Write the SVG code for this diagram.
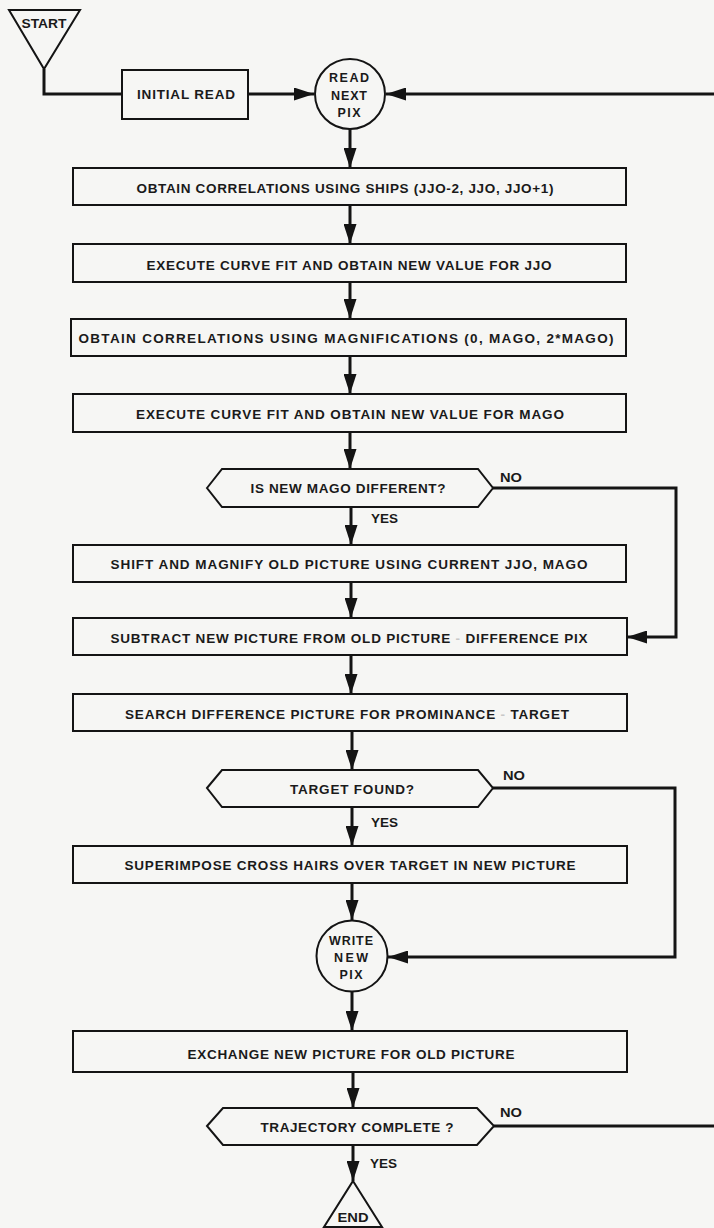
<svg xmlns="http://www.w3.org/2000/svg" width="714" height="1228" viewBox="0 0 714 1228">
  <style>
    .bg { fill: #f6f6f4; }
    .box { fill: none; stroke: #141414; stroke-width: 2; }
    .term { fill: none; stroke: #141414; stroke-width: 2; stroke-linejoin: miter; }
    .wire { fill: none; stroke: #141414; stroke-width: 3; stroke-linejoin: miter; }
    .t { font-family: "Liberation Sans", Arial, sans-serif; font-weight: bold; font-size: 13.5px; fill: #1a1a1a; text-anchor: middle; }
    .s { font-size: 12.5px; }
    .lbl { font-family: "Liberation Sans", Arial, sans-serif; font-weight: bold; font-size: 12.5px; fill: #1a1a1a; }
    .faint { fill: #c8c8c8; }
  </style>
  <defs>
    <marker id="arrow" markerUnits="userSpaceOnUse" viewBox="0 0 20 13" refX="20" refY="6.5" markerWidth="20" markerHeight="13" orient="auto">
      <path d="M0,0 L20,6.5 L0,13 Z" fill="#141414"/>
    </marker>
  </defs>

  <rect class="bg" x="0" y="0" width="714" height="1228"/>

  <!-- flow lines -->
  <g id="connectors">
    <path class="wire" d="M44,69 V94 H122"/>
    <path class="wire" d="M248,94 H314" marker-end="url(#arrow)"/>
    <path class="wire" d="M714,94 H386" marker-end="url(#arrow)"/>
    <path class="wire" d="M350,129 V168" marker-end="url(#arrow)"/>
    <path class="wire" d="M350,205 V244" marker-end="url(#arrow)"/>
    <path class="wire" d="M350,282 V319" marker-end="url(#arrow)"/>
    <path class="wire" d="M350,356 V394" marker-end="url(#arrow)"/>
    <path class="wire" d="M350,432 V469" marker-end="url(#arrow)"/>
    <path class="wire" d="M351,507 V545" marker-end="url(#arrow)"/>
    <path class="wire" d="M493,488 H676 V637 H627" marker-end="url(#arrow)"/>
    <path class="wire" d="M351,582 V618" marker-end="url(#arrow)"/>
    <path class="wire" d="M351,655 V694" marker-end="url(#arrow)"/>
    <path class="wire" d="M352,731 V770" marker-end="url(#arrow)"/>
    <path class="wire" d="M352,807 V846" marker-end="url(#arrow)"/>
    <path class="wire" d="M493,788 H675 V957 H388" marker-end="url(#arrow)"/>
    <path class="wire" d="M352,883 V920" marker-end="url(#arrow)"/>
    <path class="wire" d="M352,992 V1031" marker-end="url(#arrow)"/>
    <path class="wire" d="M353,1072 V1108" marker-end="url(#arrow)"/>
    <path class="wire" d="M494,1126 H714"/>
    <path class="wire" d="M353,1145 V1181" marker-end="url(#arrow)"/>
    <text class="lbl" x="500" y="482" textLength="22" lengthAdjust="spacingAndGlyphs">NO</text>
    <text class="lbl" x="371" y="523" textLength="27" lengthAdjust="spacingAndGlyphs">YES</text>
    <text class="lbl" x="503" y="780" textLength="22" lengthAdjust="spacingAndGlyphs">NO</text>
    <text class="lbl" x="371" y="827" textLength="27" lengthAdjust="spacingAndGlyphs">YES</text>
    <text class="lbl" x="500" y="1117" textLength="22" lengthAdjust="spacingAndGlyphs">NO</text>
    <text class="lbl" x="370" y="1168" textLength="27" lengthAdjust="spacingAndGlyphs">YES</text>
  </g>

  <g id="start">
    <path class="term" d="M9,10 H80 L44,69 Z"/>
    <text class="t s" x="44" y="28" textLength="45" lengthAdjust="spacingAndGlyphs">START</text>
  </g>

  <g id="initial-read">
    <rect class="box" x="122" y="70" width="126" height="49"/>
    <text class="t" x="186" y="99" textLength="98" lengthAdjust="spacing">INITIAL READ</text>
  </g>

  <g id="read-next-pix">
    <circle class="box" cx="350" cy="94" r="35"/>
    <text class="t s" x="349" y="82" textLength="40" lengthAdjust="spacing">READ</text>
    <text class="t s" x="349" y="99.5" textLength="36" lengthAdjust="spacing">NEXT</text>
    <text class="t s" x="349" y="117" textLength="23" lengthAdjust="spacing">PIX</text>
  </g>

  <g id="ships-correlation">
    <rect class="box" x="73" y="168" width="553" height="37"/>
    <text class="t" x="345" y="193" textLength="417" lengthAdjust="spacing">OBTAIN CORRELATIONS USING SHIPS (JJO-2, JJO, JJO+1)</text>
  </g>

  <g id="fit-jjo">
    <rect class="box" x="73" y="244" width="553" height="38"/>
    <text class="t" x="349" y="269.5" textLength="405" lengthAdjust="spacing">EXECUTE CURVE FIT AND OBTAIN NEW VALUE FOR JJO</text>
  </g>

  <g id="mag-correlation">
    <rect class="box" x="71" y="319" width="555" height="37"/>
    <text class="t" x="346" y="342.5" textLength="535" lengthAdjust="spacing">OBTAIN CORRELATIONS USING MAGNIFICATIONS (0, MAGO, 2*MAGO)</text>
  </g>

  <g id="fit-mago">
    <rect class="box" x="73" y="394" width="553" height="38"/>
    <text class="t" x="350" y="418.5" textLength="428" lengthAdjust="spacing">EXECUTE CURVE FIT AND OBTAIN NEW VALUE FOR MAGO</text>
  </g>

  <g id="mago-changed">
    <path class="box" d="M207,488 L222,469 H478 L493,488 L478,507 H222 Z"/>
    <text class="t" x="348" y="492.5" textLength="195" lengthAdjust="spacing">IS NEW MAGO DIFFERENT?</text>
  </g>

  <g id="shift-magnify">
    <rect class="box" x="73" y="545" width="553" height="37"/>
    <text class="t" x="349" y="568.5" textLength="477" lengthAdjust="spacing">SHIFT AND MAGNIFY OLD PICTURE USING CURRENT JJO, MAGO</text>
  </g>

  <g id="subtract">
    <rect class="box" x="73" y="618" width="554" height="37"/>
    <text class="t" x="349" y="643" textLength="477" lengthAdjust="spacing">SUBTRACT NEW PICTURE FROM OLD PICTURE <tspan class="faint">-</tspan> DIFFERENCE PIX</text>
  </g>

  <g id="search">
    <rect class="box" x="73" y="694" width="554" height="37"/>
    <text class="t" x="347" y="719" textLength="444" lengthAdjust="spacing">SEARCH DIFFERENCE PICTURE FOR PROMINANCE <tspan class="faint">-</tspan> TARGET</text>
  </g>

  <g id="target-found">
    <path class="box" d="M207,788 L222,770 H478 L493,788 L478,807 H222 Z"/>
    <text class="t" x="352" y="793.5" textLength="124" lengthAdjust="spacing">TARGET FOUND?</text>
  </g>

  <g id="cross-hairs">
    <rect class="box" x="73" y="846" width="554" height="37"/>
    <text class="t" x="350" y="869.5" textLength="451" lengthAdjust="spacing">SUPERIMPOSE CROSS HAIRS OVER TARGET IN NEW PICTURE</text>
  </g>

  <g id="write-new-pix">
    <circle class="box" cx="352" cy="956" r="35.5"/>
    <text class="t s" x="351" y="944.5" textLength="44" lengthAdjust="spacing">WRITE</text>
    <text class="t s" x="351" y="961.5" textLength="34" lengthAdjust="spacing">NEW</text>
    <text class="t s" x="351" y="978.5" textLength="23" lengthAdjust="spacing">PIX</text>
  </g>

  <g id="exchange">
    <rect class="box" x="73" y="1031" width="554" height="41"/>
    <text class="t" x="351" y="1058.5" textLength="327" lengthAdjust="spacing">EXCHANGE NEW PICTURE FOR OLD PICTURE</text>
  </g>

  <g id="trajectory-complete">
    <path class="box" d="M207,1126 L223,1108 H477 L494,1126 L477,1145 H223 Z"/>
    <text class="t" x="357" y="1132" textLength="193" lengthAdjust="spacing">TRAJECTORY COMPLETE ?</text>
  </g>

  <g id="end">
    <path class="term" d="M353,1181 L382,1227 H324 Z"/>
    <text class="t s" x="353" y="1221.5" textLength="31" lengthAdjust="spacingAndGlyphs">END</text>
  </g>
</svg>
